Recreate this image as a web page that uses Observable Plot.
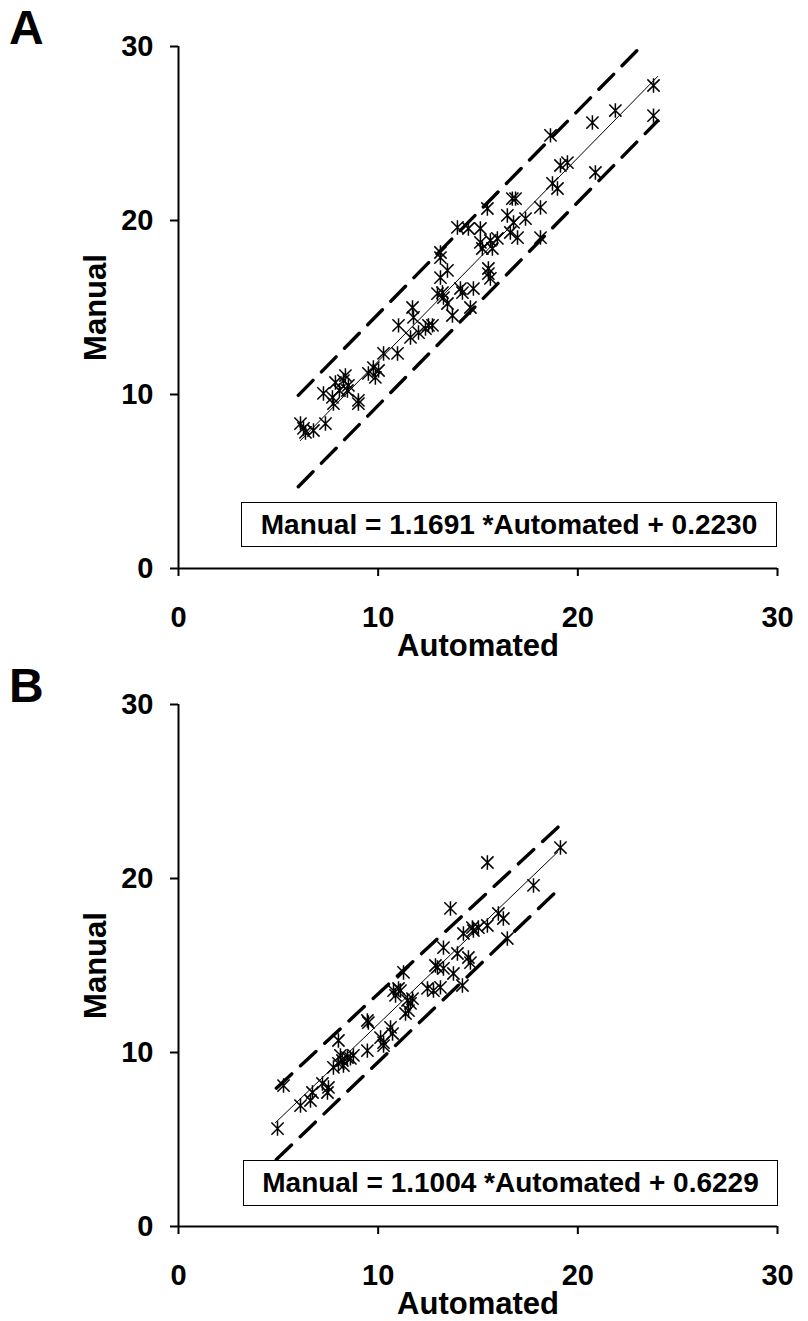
<!DOCTYPE html>
<html>
<head>
<meta charset="utf-8">
<script src="https://cdn.jsdelivr.net/npm/d3@7"></script>
<script src="https://cdn.jsdelivr.net/npm/@observablehq/plot@0.6"></script>
<style>
  html, body { margin: 0; padding: 0; background: #fff; }
  #page { position: relative; width: 808px; height: 1321px; overflow: hidden; background: #fff;
          font-family: "Liberation Sans", Arial, sans-serif; }
  .panel { position: absolute; left: 0; }
  .letter { position: absolute; font-weight: bold; font-size: 48px; line-height: 48px; color: #000; }
  .eqbox { position: absolute; border: 1px solid #000; box-sizing: border-box; background: #fff;
           display: flex; align-items: center; justify-content: center;
           font-weight: bold; font-size: 28px; color: #000; white-space: pre; }
</style>
</head>
<body>
<div id="page"></div>
<script>
// ---------- data ----------
const ticks = [0, 10, 20, 30];
const xLabel = "Automated";
const yLabel = "Manual";

// Panel A
const aAuto = [6.11,6.26,6.36,6.76,7.36,7.26,7.71,7.76,7.86,8.26,8.36,8.51,8.46,8.06,9.01,9.01,9.51,9.76,10.02,9.86,
  10.27,10.97,11.02,11.62,11.72,11.77,12.02,12.37,12.72,12.52,12.97,13.27,13.47,
  18.73,18.98,16.72,16.88,15.47,18.13,16.47,16.78,17.38,13.97,14.52,15.12,16.62,16.98,18.13,15.12,15.62,15.97,
  15.22,15.72,13.12,13.12,15.52,15.52,15.62,13.47,13.12,14.12,14.22,14.77,13.22,14.62,13.72,
  23.79,23.79,21.88,20.73,18.63,20.88,19.13,19.48];
const aManual = [8.33,8.05,7.82,7.93,8.33,10.06,9.83,9.48,10.69,10.80,11.09,10.52,10.23,10.23,9.66,9.48,11.21,11.55,11.38,10.98,
  12.36,12.36,13.97,13.28,15.00,14.43,13.56,13.79,13.97,13.97,15.80,15.57,15.23,
  22.13,21.84,21.26,21.26,20.69,20.75,20.29,19.89,20.11,19.60,19.54,19.54,19.31,19.02,19.02,18.74,18.85,18.97,
  18.39,18.39,18.16,17.87,17.24,16.95,16.67,17.13,16.72,16.09,15.86,16.09,15.86,15.00,14.54,
  27.76,26.03,26.32,25.63,24.89,22.76,23.16,23.33];
const aFitAuto = [6.1, 24.0];
const aFitManual = [7.35, 28.28];
const aBandAuto = [6.0, 24.0];
const aUpper = [9.95, 30.98];
const aLower = [4.70, 25.73];
const aEquation = "Manual = 1.1691 *Automated + 0.2230";

// Panel B
const bAuto = [4.96,5.26,6.11,6.61,6.71,7.21,7.46,7.51,7.76,8.01,8.21,8.26,8.61,8.01,8.11,8.46,8.76,9.46,9.46,9.51,
  10.12,10.27,10.27,10.62,10.72,10.77,10.87,11.02,11.12,11.27,11.47,11.62,11.72,11.37,11.52,12.47,12.77,12.87,12.97,
  13.27,13.12,13.77,14.22,14.62,13.62,15.47,17.78,19.13,16.02,16.27,16.47,14.72,15.02,15.47,14.77,14.27,13.27,13.97,14.52];
const bManual = [5.63,8.10,6.95,7.24,7.70,8.22,7.70,7.99,9.14,9.37,9.54,9.25,9.66,10.69,9.83,9.71,9.83,10.11,11.84,11.72,
  10.86,10.40,10.57,11.44,11.09,13.56,13.28,13.68,13.56,14.60,12.99,12.82,13.10,12.24,12.41,13.68,13.56,15.00,14.89,
  14.83,13.74,14.54,13.85,15.17,18.28,20.92,19.60,21.78,17.99,17.70,16.55,17.18,17.18,17.30,17.01,16.84,16.03,15.69,15.46];
const bFitAuto = [4.85, 19.0];
const bFitManual = [5.96, 21.53];
const bBandAuto = [4.9, 19.1];
const bUpper = [7.95, 23.05];
const bLower = [3.85, 19.45];
const bEquation = "Manual = 1.1004 *Automated + 0.6229";

// ---------- helpers ----------
const asteriskX = {
  draw(ctx, size) {
    const r = Math.sqrt(size / Math.PI);
    const a = r * 0.85;
    ctx.moveTo(0, -r); ctx.lineTo(0, r);
    ctx.moveTo(-a, -a); ctx.lineTo(a, a);
    ctx.moveTo(-a, a); ctx.lineTo(a, -a);
  }
};
const pts = (xs, ys) => xs.map((x, i) => ({x, y: ys[i]}));

function panel(auto, manual, fitX, fitY, bandX, upper, lower) {
  const el = Plot.plot({
    width: 808, height: 660,
    marginTop: 46, marginBottom: 92, marginLeft: 178, marginRight: 31,
    x: {domain: [0, 30]},
    y: {domain: [0, 30]},
    style: {fontFamily: "'Liberation Sans', Arial, sans-serif", fontWeight: "bold", color: "#000", background: "transparent", overflow: "visible"},
    marks: [
      Plot.axisX({ticks, tickSize: 8, tickPadding: 30, fontSize: 29, tickFormat: d => String(d),
        label: xLabel, labelAnchor: "center", labelOffset: 87, labelArrow: "none", strokeWidth: 2}),
      Plot.axisY({ticks, tickSize: 8, tickPadding: 17, fontSize: 29, tickFormat: d => String(d),
        label: yLabel, labelAnchor: "center", labelOffset: 95, labelArrow: "none", strokeWidth: 2}),
      Plot.ruleX([0], {stroke: "#000", strokeWidth: 2}),
      Plot.ruleY([0], {stroke: "#000", strokeWidth: 2}),
      Plot.line(pts(bandX, upper), {x: "x", y: "y", stroke: "#000", strokeWidth: 3.4, strokeDasharray: "21,12", clip: true}),
      Plot.line(pts(bandX, lower), {x: "x", y: "y", stroke: "#000", strokeWidth: 3.4, strokeDasharray: "21,12", clip: true}),
      Plot.line(pts(fitX, fitY), {x: "x", y: "y", stroke: "#000", strokeWidth: 1}),
      Plot.dot(pts(auto, manual), {x: "x", y: "y", symbol: asteriskX, r: 7.2, stroke: "#000", strokeWidth: 1.5, fill: "none"})
    ]
  });
  const sel = d3.select(el);
  sel.selectAll('g[aria-label="x-axis tick label"], g[aria-label="y-axis tick label"]')
    .attr("font-size", 29).style("font-size", "29px")
    .selectAll("text").attr("font-size", 29).style("font-size", "29px");
  sel.selectAll('g[aria-label="x-axis label"], g[aria-label="y-axis label"]')
    .attr("font-size", 31).style("font-size", "31px")
    .selectAll("text").attr("font-size", 31).style("font-size", "31px");
  return el;
}

// ---------- build page ----------
const page = document.getElementById("page");

function addPanel(top, letter, plotEl, equation, box) {
  plotEl.classList.add("panel");
  plotEl.style.top = top + "px";
  page.appendChild(plotEl);
  const L = document.createElement("div");
  L.className = "letter";
  L.textContent = letter;
  L.style.left = "9px";
  L.style.top = (top + 4) + "px";
  page.appendChild(L);
  const E = document.createElement("div");
  E.className = "eqbox";
  E.textContent = equation;
  E.style.left = box.left + "px";
  E.style.top = (top + box.top) + "px";
  E.style.width = box.width + "px";
  E.style.height = box.height + "px";
  page.appendChild(E);
}

addPanel(0, "A", panel(aAuto, aManual, aFitAuto, aFitManual, aBandAuto, aUpper, aLower), aEquation,
  {left: 241, top: 502, width: 536, height: 45});
addPanel(658, "B", panel(bAuto, bManual, bFitAuto, bFitManual, bBandAuto, bUpper, bLower), bEquation,
  {left: 243, top: 502, width: 535, height: 46});
</script>
</body>
</html>
